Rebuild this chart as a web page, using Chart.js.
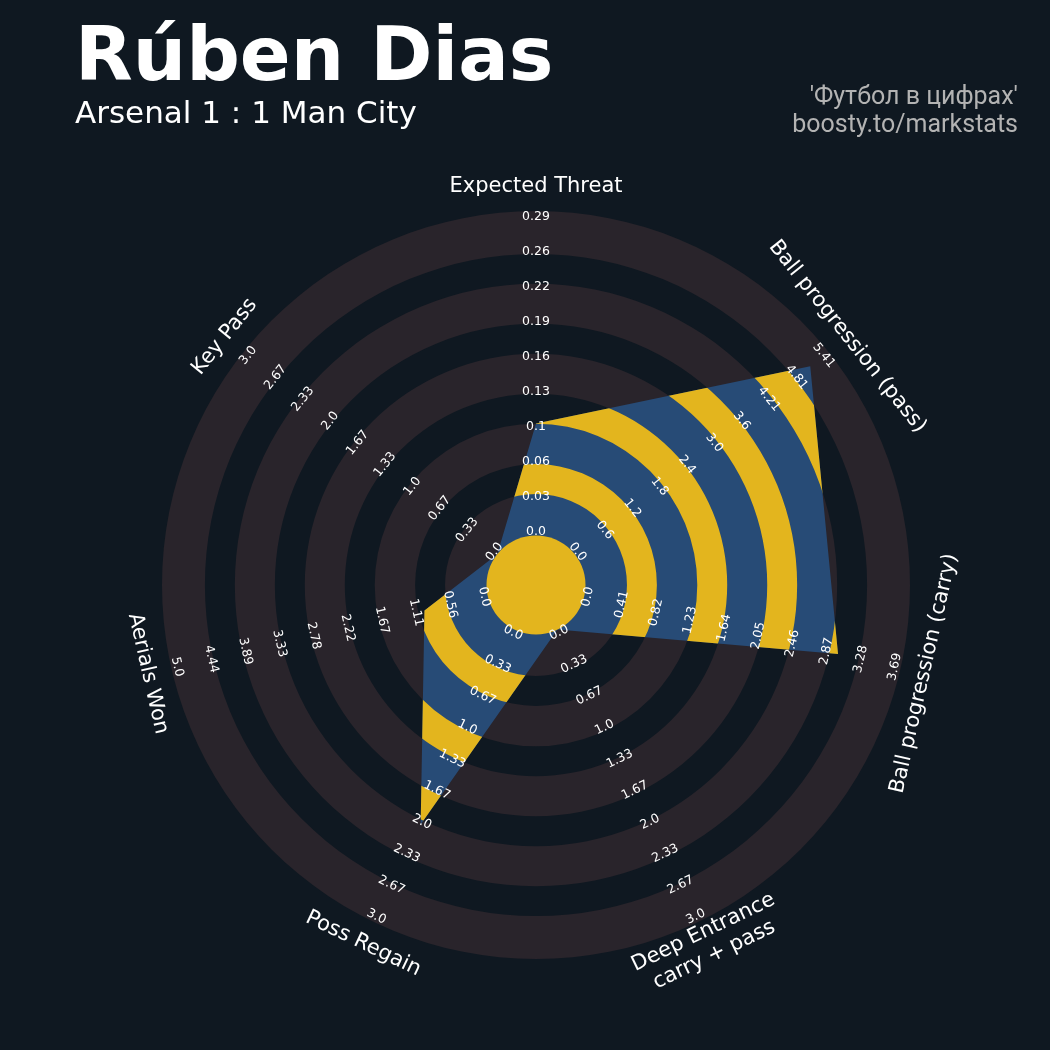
<!DOCTYPE html>
<html lang="en">
<head>
    <meta charset="UTF-8">
    <title>Rúben Dias radar</title>
    <script src="https://cdn.jsdelivr.net/npm/chart.js@4.4.0/dist/chart.umd.min.js"></script>
    <style>
        * {
            box-sizing: border-box;
            margin: 0;
            padding: 0;
        }

        body {
            width: 1050px;
            height: 1050px;
            background-color: #0f1821;
            position: relative;
            overflow: hidden;
        }

        #radar {
            position: absolute;
            left: 0;
            top: 0;
        }

        .title {
            position: absolute;
            left: 75px;
            top: 17px;
            font-family: 'DejaVu Sans', sans-serif;
            font-weight: bold;
            font-size: 75px;
            line-height: 75px;
            color: #ffffff;
            white-space: nowrap;
        }

        .subtitle {
            position: absolute;
            left: 75px;
            top: 97px;
            font-family: 'DejaVu Sans', sans-serif;
            font-size: 31px;
            line-height: 31px;
            color: #ffffff;
            white-space: nowrap;
        }

        .credit {
            position: absolute;
            right: 32px;
            top: 82px;
            font-family: Roboto, sans-serif;
            font-size: 25px;
            line-height: 28px;
            color: #b3b3b3;
            text-align: right;
            white-space: nowrap;
        }
    </style>
</head>
<body>
    <canvas id="radar" width="1050" height="1050"></canvas>
    <div class="title">Rúben Dias</div>
    <div class="subtitle">Arsenal 1 : 1 Man City</div>
    <div class="credit">'Футбол в цифрах'<br>boosty.to/markstats</div>

    <script>
        // параметры радара (по часовой стрелке от верха)
        const params = ['Expected Threat', 'Ball progression (pass)', 'Ball progression (carry)',
            ['Deep Entrance', 'carry + pass'], 'Poss Regain', 'Aerials Won', 'Key Pass'];
        const values = [0.1, 5.02, 2.96, 0, 2.0, 1.0, 0];
        const rangeMin = [0, 0, 0, 0, 0, 0, 0];
        const rangeMax = [0.29, 5.407, 3.69, 3.0, 3.0, 5.0, 3.0];

        // подписи шкал по каждой оси
        const ticksXT = ['0.0', '0.03', '0.06', '0.1', '0.13', '0.16', '0.19', '0.22', '0.26', '0.29'];
        const ticksPass = ['0.0', '0.6', '1.2', '1.8', '2.4', '3.0', '3.6', '4.21', '4.81', '5.41'];
        const ticksCarry = ['0.0', '0.41', '0.82', '1.23', '1.64', '2.05', '2.46', '2.87', '3.28', '3.69'];
        const ticksDeep = ['0.0', '0.33', '0.67', '1.0', '1.33', '1.67', '2.0', '2.33', '2.67', '3.0'];
        const ticksRegain = ['0.0', '0.33', '0.67', '1.0', '1.33', '1.67', '2.0', '2.33', '2.67', '3.0'];
        const ticksAerials = ['0.0', '0.56', '1.11', '1.67', '2.22', '2.78', '3.33', '3.89', '4.44', '5.0'];
        const ticksKeyPass = ['0.0', '0.33', '0.67', '1.0', '1.33', '1.67', '2.0', '2.33', '2.67', '3.0'];
        const tickLabels = [ticksXT, ticksPass, ticksCarry, ticksDeep, ticksRegain, ticksAerials, ticksKeyPass];

        const NUM_LEVELS = 9;
        const levels = values.map((v, i) => (v - rangeMin[i]) / (rangeMax[i] - rangeMin[i]) * NUM_LEVELS);

        const BG = '#0f1821';
        const RING = '#29242b';
        const BLUE = '#274b76';
        const YELLOW = '#e3b51e';
        // полосы колец (в единицах шкалы)
        const bands = [[1.15, 1.98], [3.1, 3.93], [5.04, 5.87], [6.98, 7.81]];

        function annulus(ctx, cx, cy, r1, r2) {
            ctx.beginPath();
            ctx.arc(cx, cy, r2, 0, Math.PI * 2);
            ctx.arc(cx, cy, r1, 0, Math.PI * 2, true);
            ctx.fill();
        }

        function textRotation(angle) {
            let rot = angle + Math.PI / 2;
            while (rot > Math.PI / 2 + 1e-6) rot -= Math.PI;
            while (rot < -Math.PI / 2 - 1e-6) rot += Math.PI;
            return rot;
        }

        const ringsPlugin = {
            id: 'rings',
            beforeDatasetsDraw(chart) {
                const s = chart.scales.r;
                const ctx = chart.ctx;
                const cx = s.xCenter, cy = s.yCenter;
                ctx.save();
                ctx.fillStyle = RING;
                ctx.beginPath();
                ctx.arc(cx, cy, s.getDistanceFromCenterForValue(NUM_LEVELS), 0, Math.PI * 2);
                ctx.fill();
                ctx.fillStyle = BG;
                bands.forEach(b => annulus(ctx, cx, cy,
                    s.getDistanceFromCenterForValue(b[0]), s.getDistanceFromCenterForValue(b[1])));
                ctx.restore();
            },
            afterDatasetsDraw(chart) {
                const s = chart.scales.r;
                const ctx = chart.ctx;
                const cx = s.xCenter, cy = s.yCenter;
                const pts = chart.getDatasetMeta(0).data;

                // жёлтые кольца внутри многоугольника
                ctx.save();
                ctx.beginPath();
                pts.forEach((p, i) => i ? ctx.lineTo(p.x, p.y) : ctx.moveTo(p.x, p.y));
                ctx.closePath();
                ctx.clip();
                ctx.fillStyle = YELLOW;
                bands.forEach(b => annulus(ctx, cx, cy,
                    s.getDistanceFromCenterForValue(b[0]), s.getDistanceFromCenterForValue(b[1])));
                ctx.restore();

                // центральный круг
                ctx.save();
                ctx.fillStyle = YELLOW;
                ctx.beginPath();
                ctx.arc(cx, cy, s.getDistanceFromCenterForValue(0), 0, Math.PI * 2);
                ctx.fill();

                // подписи делений
                ctx.fillStyle = '#ffffff';
                ctx.textAlign = 'center';
                ctx.textBaseline = 'middle';
                ctx.font = '12.5px "DejaVu Sans"';
                tickLabels.forEach((labels, i) => {
                    labels.forEach((t, k) => {
                        const p = s.getPointPosition(i, s.getDistanceFromCenterForValue(0.097 + 0.971 * k));
                        ctx.save();
                        ctx.translate(p.x, p.y);
                        ctx.rotate(textRotation(p.angle));
                        ctx.fillText(t, 0, 0);
                        ctx.restore();
                    });
                });

                // названия параметров
                ctx.font = '21px "DejaVu Sans"';
                params.forEach((name, i) => {
                    const lines = Array.isArray(name) ? name : [name];
                    const p = s.getPointPosition(i, s.getDistanceFromCenterForValue(9.67));
                    ctx.save();
                    ctx.translate(p.x, p.y);
                    ctx.rotate(textRotation(p.angle));
                    lines.forEach((ln, j) => ctx.fillText(ln, 0, (j - (lines.length - 1) / 2) * 25));
                    ctx.restore();
                });
                ctx.restore();
            }
        };

        new Chart(document.getElementById('radar'), {
            type: 'radar',
            data: {
                labels: params,
                datasets: [{
                    data: levels,
                    backgroundColor: BLUE,
                    borderColor: 'rgba(0,0,0,0)',
                    borderWidth: 0,
                    pointRadius: 0,
                    pointHoverRadius: 0,
                    fill: 'start'
                }]
            },
            options: {
                responsive: false,
                animation: false,
                devicePixelRatio: 1,
                layout: {
                    padding: { left: 162, top: 211, right: 140, bottom: 91 }
                },
                plugins: {
                    legend: { display: false },
                    tooltip: { enabled: false }
                },
                scales: {
                    r: {
                        min: -1.373,
                        max: NUM_LEVELS,
                        ticks: { display: false },
                        grid: { display: false },
                        angleLines: { display: false },
                        pointLabels: { display: false }
                    }
                }
            },
            plugins: [ringsPlugin]
        });
    </script>
</body>
</html>
